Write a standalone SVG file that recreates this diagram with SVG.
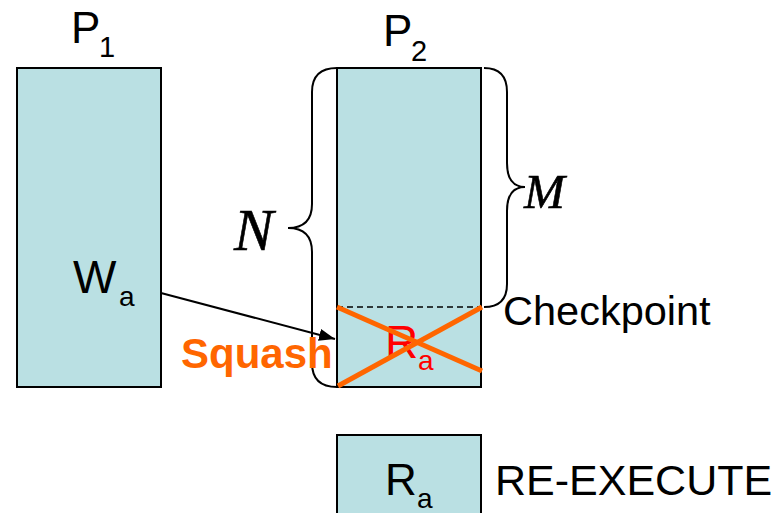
<svg xmlns="http://www.w3.org/2000/svg" width="777" height="513" viewBox="0 0 777 513">
<defs>
<style>
.box{fill:#BAE0E3;stroke:#000;stroke-width:2}
.t{font-family:"Liberation Sans",Arial,sans-serif;fill:#000}
.m{font-family:"Liberation Serif","Times New Roman",serif;font-style:italic;fill:#000;stroke:#000;stroke-width:0.6}
.brace{fill:none;stroke:#000;stroke-width:2}
.x{stroke:#FF6600;stroke-width:5;stroke-linecap:butt}
</style>
<marker id="ah" viewBox="0 0 16 12" refX="16" refY="6" markerWidth="16" markerHeight="12" markerUnits="userSpaceOnUse" orient="auto">
<path d="M0,0 L16,6 L0,12 z" fill="#000"/>
</marker>
</defs>
<rect width="777" height="513" fill="#fff"/>
<g id="p1">
<rect class="box" x="17" y="68" width="144" height="319"/>
<text class="t" x="71" y="43" font-size="44">P</text>
<text class="t" x="99" y="57" font-size="29">1</text>
<text class="t" x="73" y="293" font-size="46">W</text>
<text class="t" x="119" y="306" font-size="28">a</text>
</g>
<g id="p2">
<rect class="box" x="337" y="68" width="144" height="319"/>
<text class="t" x="383" y="46" font-size="44">P</text>
<text class="t" x="411" y="61" font-size="29">2</text>
<line x1="337" y1="307" x2="481" y2="307" stroke="#000" stroke-width="1.6" stroke-dasharray="6,4"/>
<text class="t" x="385" y="358" font-size="46" style="fill:#FF0000">R</text>
<text class="t" x="418" y="370" font-size="28" style="fill:#FF0000">a</text>
<line class="x" x1="337" y1="307" x2="482" y2="371"/>
<line class="x" x1="338" y1="386" x2="482" y2="307"/>
</g>
<g id="braces">
<path class="brace" d="M337,68 Q312,68 312,92 L312,204 Q312,228 288,228 Q312,228 312,252 L312,363 Q312,387 337,387"/>
<path class="brace" d="M484,68 Q507,68 507,92 L507,163 Q507,187 525,187 Q507,187 507,211 L507,284 Q507,307 484,307"/>
<text class="m" x="234" y="250" font-size="59">N</text>
<text class="m" x="524" y="208" font-size="49">M</text>
</g>
<g id="labels">
<text class="t" x="503" y="325" font-size="41.5">Checkpoint</text>
<text class="t" x="181" y="368" font-size="42" font-weight="bold" style="fill:#FF6600">Squash</text>
</g>
<g id="reexec">
<rect class="box" x="337" y="435" width="144" height="90"/>
<text class="t" x="385" y="495" font-size="44">R</text>
<text class="t" x="417" y="508" font-size="28">a</text>
<text class="t" x="495" y="495" font-size="43">RE-EXECUTE</text>
</g>
<g id="connectors">
<line x1="161" y1="293" x2="335" y2="339" stroke="#000" stroke-width="2" marker-end="url(#ah)"/>
</g>
</svg>
